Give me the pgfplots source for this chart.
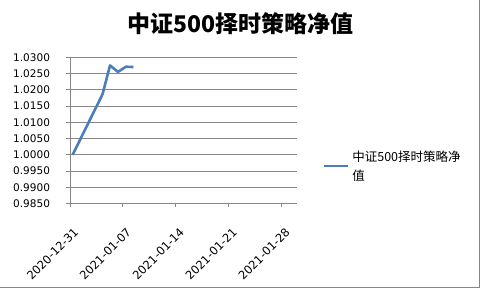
\documentclass[border=0pt]{standalone}
\usepackage{fontspec}
\setmainfont{DejaVu Sans}
\newfontfamily\cjk{Noto Sans CJK SC}
\usepackage{pgfplots}
\pgfplotsset{compat=1.18}
\definecolor{ser}{HTML}{4A7EBB}
\definecolor{gridc}{HTML}{868686}
\begin{document}
\begin{tikzpicture}[x=1pt,y=1pt]
\path[use as bounding box] (0,0) rectangle (480,288);
\draw[gridc, line width=1pt] (479.5,288) -- (479.5,0.5) -- (0,0.5);
\node[font=\cjk\bfseries\fontsize{23}{27}\selectfont] at (240.5,264) {中证500择时策略净值};
\begin{axis}[
  scale only axis, width=226.7pt, height=146.2pt,
  at={(70pt,84.5pt)}, anchor=south west,
  xmin=0, xmax=30, ymin=0.985, ymax=1.03,
  xtick={0,7,14,21,28},
  xticklabels={2020-12-31,2021-01-07,2021-01-14,2021-01-21,2021-01-28},
  ytick={0.985,0.99,0.995,1.0,1.005,1.01,1.015,1.02,1.025,1.03},
  yticklabels={0.9850,0.9900,0.9950,1.0000,1.0050,1.0100,1.0150,1.0200,1.0250,1.0300},
  axis x line*=bottom, axis y line*=left,
  axis line style={gridc, line width=0.8pt, -},
  tick style={gridc, line width=0.8pt},
  tick align=outside, major tick length=3.5pt,
  ymajorgrids, grid style={gridc, line width=0.8pt},
  xticklabel style={font=\fontsize{11.5}{13}\selectfont, xshift=3pt, yshift=-20pt, rotate=45, anchor=north east, inner sep=0pt},
  yticklabel style={font=\fontsize{10.5}{12}\selectfont, xshift=-13pt},
  legend style={at={(axis description cs:1.115,0.256)}, anchor=west, draw=none, fill=none, inner sep=0pt, outer sep=0pt,
    font=\cjk\fontsize{12.5}{19}\selectfont, cells={align=left, anchor=west}, column sep=1pt},
  legend image code/.code={\draw[#1] (0pt,0pt) -- (24pt,0pt);},
]
\addplot[ser, line width=2.6pt, line join=round] coordinates {
  (0.35,1.0000) (4.3,1.0186) (5.3,1.0275) (6.35,1.0255) (7.4,1.0271) (8.4,1.0270)
};
\addlegendentry{中证500择时策略净\\值}
\end{axis}
\end{tikzpicture}
\end{document}
